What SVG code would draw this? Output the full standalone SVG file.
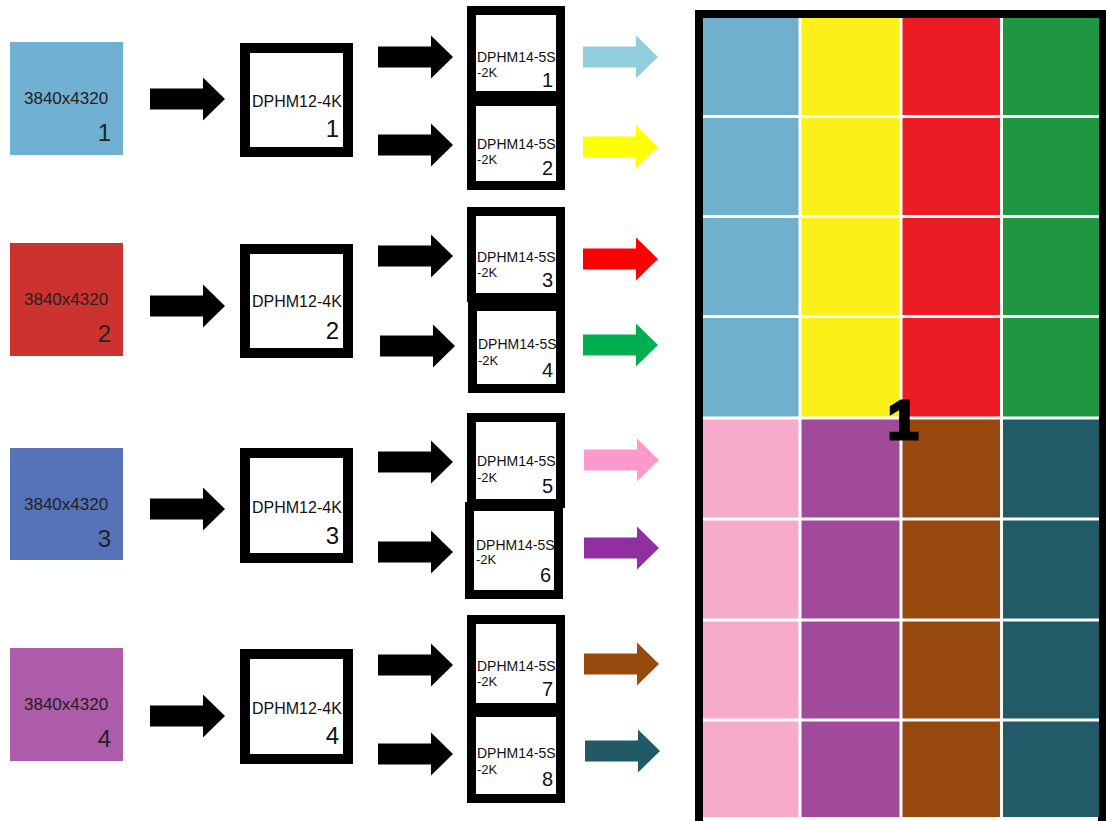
<svg xmlns="http://www.w3.org/2000/svg" xmlns:xlink="http://www.w3.org/1999/xlink" width="1106" height="821" viewBox="0 0 1106 821">
<defs>
<style>
text{font-family:"Liberation Sans",Arial,sans-serif;fill:#111}
.src{font-size:17px;fill:#222}
.srcn{font-size:24px;text-anchor:end;fill:#222}
.b12{fill:#fff;stroke:#000;stroke-width:10}
.t12{font-size:16px}
.n12{font-size:24px;text-anchor:end}
.b14{fill:#fff;stroke:#000;stroke-width:9}
.t14{font-size:14px}
.k14{font-size:13px}
.n14{font-size:20px;text-anchor:end}
.vl{stroke:#fff;stroke-width:3}
.big{font-size:56px;font-weight:bold;text-anchor:middle;fill:#000;stroke:#000;stroke-width:3}
</style>
<path id="arr" d="M0,-10.5 H53 V-21.5 L75,0 L53,21.5 V10.5 H0 Z"/>
</defs>
<rect width="1106" height="821" fill="#fff"/>

<g id="connectors">
<use xlink:href="#arr" transform="translate(150,99)" fill="#000"/>
<use xlink:href="#arr" transform="translate(150,306)" fill="#000"/>
<use xlink:href="#arr" transform="translate(150,509)" fill="#000"/>
<use xlink:href="#arr" transform="translate(150,716)" fill="#000"/>

<use xlink:href="#arr" transform="translate(378,57)" fill="#000"/>
<use xlink:href="#arr" transform="translate(378,145)" fill="#000"/>
<use xlink:href="#arr" transform="translate(378,256)" fill="#000"/>
<use xlink:href="#arr" transform="translate(380,346)" fill="#000"/>
<use xlink:href="#arr" transform="translate(378,462)" fill="#000"/>
<use xlink:href="#arr" transform="translate(378,552)" fill="#000"/>
<use xlink:href="#arr" transform="translate(378,665)" fill="#000"/>
<use xlink:href="#arr" transform="translate(378,754)" fill="#000"/>

<use xlink:href="#arr" transform="translate(583,57)" fill="#92CDDC"/>
<use xlink:href="#arr" transform="translate(583,147)" fill="#FFFF00"/>
<use xlink:href="#arr" transform="translate(583,259)" fill="#FF0000"/>
<use xlink:href="#arr" transform="translate(583,345)" fill="#00B050"/>
<use xlink:href="#arr" transform="translate(584,460)" fill="#FF99CC"/>
<use xlink:href="#arr" transform="translate(584,548)" fill="#9030A0"/>
<use xlink:href="#arr" transform="translate(584,664)" fill="#974A0D"/>
<use xlink:href="#arr" transform="translate(585,751)" fill="#215967"/>
</g>

<g id="src1"><rect x="10" y="42" width="113" height="113" fill="#70B1D2"/><text class="src" x="24" y="104">3840x4320</text><text class="srcn" x="111" y="141">1</text></g>
<g id="src2"><rect x="10" y="243" width="113" height="113" fill="#CC322E"/><text class="src" x="24" y="305">3840x4320</text><text class="srcn" x="111" y="342">2</text></g>
<g id="src3"><rect x="10" y="448" width="113" height="112" fill="#5672B8"/><text class="src" x="24" y="510">3840x4320</text><text class="srcn" x="111" y="547">3</text></g>
<g id="src4"><rect x="10" y="648" width="113" height="113" fill="#AD5CAA"/><text class="src" x="24" y="710">3840x4320</text><text class="srcn" x="111" y="747">4</text></g>

<g id="hm12-1"><rect class="b12" x="245" y="48" width="103" height="104"/><text class="t12" x="252" y="107">DPHM12-4K</text><text class="n12" x="339" y="137">1</text></g>
<g id="hm12-2"><rect class="b12" x="245" y="249" width="103" height="104"/><text class="t12" x="252" y="307">DPHM12-4K</text><text class="n12" x="339" y="339">2</text></g>
<g id="hm12-3"><rect class="b12" x="245" y="453" width="103" height="105"/><text class="t12" x="252" y="513">DPHM12-4K</text><text class="n12" x="339" y="544">3</text></g>
<g id="hm12-4"><rect class="b12" x="245" y="654" width="103" height="105"/><text class="t12" x="252" y="714">DPHM12-4K</text><text class="n12" x="339" y="744">4</text></g>

<g id="hm14-1"><rect class="b14" x="471.5" y="10.5" width="89" height="85"/><text class="t14" x="477" y="62">DPHM14-5S</text><text class="k14" x="477" y="77">-2K</text><text class="n14" x="553" y="87">1</text></g>
<g id="hm14-2"><rect class="b14" x="471.5" y="101.5" width="89" height="84"/><text class="t14" x="477" y="149">DPHM14-5S</text><text class="k14" x="477" y="164">-2K</text><text class="n14" x="553" y="175">2</text></g>
<g id="hm14-3"><rect class="b14" x="471.5" y="211.5" width="89" height="86"/><text class="t14" x="477" y="262">DPHM14-5S</text><text class="k14" x="477" y="277">-2K</text><text class="n14" x="553" y="287">3</text></g>
<g id="hm14-4"><rect class="b14" x="472.5" y="306.5" width="88" height="82"/><text class="t14" x="478" y="349">DPHM14-5S</text><text class="k14" x="478" y="365">-2K</text><text class="n14" x="553" y="377">4</text></g>
<g id="hm14-5"><rect class="b14" x="471.5" y="417.5" width="89" height="86"/><text class="t14" x="477" y="466">DPHM14-5S</text><text class="k14" x="477" y="482">-2K</text><text class="n14" x="553" y="493">5</text></g>
<g id="hm14-6"><rect class="b14" x="469.5" y="506.5" width="89" height="88"/><text class="t14" x="476" y="550">DPHM14-5S</text><text class="k14" x="476" y="564">-2K</text><text class="n14" x="551" y="582">6</text></g>
<g id="hm14-7"><rect class="b14" x="471.5" y="619.5" width="89" height="88"/><text class="t14" x="477" y="671">DPHM14-5S</text><text class="k14" x="477" y="686">-2K</text><text class="n14" x="553" y="696">7</text></g>
<g id="hm14-8"><rect class="b14" x="471.5" y="712.5" width="89" height="86"/><text class="t14" x="477" y="758">DPHM14-5S</text><text class="k14" x="477" y="774">-2K</text><text class="n14" x="553" y="786">8</text></g>

<g id="wall">
<rect x="699" y="14" width="403" height="811" fill="#fff" stroke="#000" stroke-width="8"/>
<rect x="703" y="18" width="98" height="400" fill="#70B0CC"/>
<rect x="801" y="18" width="100" height="400" fill="#FBF018"/>
<rect x="901" y="18" width="100" height="400" fill="#EC1C24"/>
<rect x="1001" y="18" width="98" height="400" fill="#1E9642"/>
<rect x="703" y="418" width="98" height="399" fill="#F5ABC9"/>
<rect x="801" y="418" width="100" height="399" fill="#A24A9A"/>
<rect x="901" y="418" width="100" height="399" fill="#96480E"/>
<rect x="1001" y="418" width="98" height="399" fill="#235A68"/>
<line class="vl" x1="800" y1="18" x2="800" y2="817"/>
<line class="vl" x1="901" y1="18" x2="901" y2="817"/>
<line class="vl" x1="1001.5" y1="18" x2="1001.5" y2="817"/>
<line class="vl" x1="703" y1="116.5" x2="1099" y2="116.5"/>
<line class="vl" x1="703" y1="216.5" x2="1099" y2="216.5"/>
<line class="vl" x1="703" y1="316.5" x2="1099" y2="316.5"/>
<line class="vl" x1="703" y1="418" x2="1099" y2="418"/>
<line class="vl" x1="703" y1="519" x2="1099" y2="519"/>
<line class="vl" x1="703" y1="620" x2="1099" y2="620"/>
<line class="vl" x1="703" y1="720" x2="1099" y2="720"/>
<text class="big" x="903" y="439">1</text>
</g>
</svg>
